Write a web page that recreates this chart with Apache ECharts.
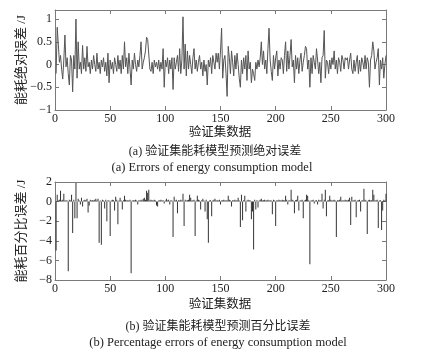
<!DOCTYPE html>
<html><head><meta charset="utf-8">
<script src="https://cdn.jsdelivr.net/npm/echarts@6/dist/echarts.min.js"></script>
<style>html,body{margin:0;padding:0;background:#fff}#c{width:444px;height:357px}</style>
</head><body><div id="c"></div>
<script>
// (a) absolute error of energy model, J (samples 1..300)
const absErr = [
-0.2,0.82,0.45,0.05,0.2,-0.1,-0.32,0.1,0.65,-0.05,
0.15,-0.2,-0.45,0.2,0.1,-0.6,0.2,-0.1,1.0,-0.3,
0.5,-0.1,0.05,-0.2,0.42,-0.1,0.15,-0.15,0.4,-0.05,
0.05,-0.2,0.1,-0.1,0.2,0.0,-0.15,0.25,-0.1,0.05,
-0.2,0.1,-0.05,0.15,-0.15,0.05,-0.25,0.25,-0.4,0.1,
-0.1,0.05,-0.2,0.15,0.0,-0.15,0.2,-0.1,0.1,-0.2,
0.2,-0.1,0.5,-0.05,0.15,-0.2,0.25,-0.1,-0.45,0.1,
-0.1,0.25,0.0,-0.15,0.1,-0.05,0.2,0.5,-0.1,0.05,
0.15,0.3,0.6,0.55,0.58,-0.1,-0.15,0.05,-0.2,0.1,
-0.05,0.05,-0.1,0.1,-0.15,0.05,-0.1,0.35,-0.5,0.1,
-0.05,0.15,-0.2,0.1,-0.1,0.15,-0.55,0.15,-0.1,0.05,
0.2,-0.15,0.35,-0.2,0.1,1.05,-0.1,0.45,-0.25,0.3,
-0.1,0.2,0.0,-0.2,0.15,0.35,-0.1,0.1,-0.15,0.05,
0.2,-0.1,0.05,-0.25,0.1,-0.15,0.0,-0.45,0.1,-0.05,
0.15,-0.2,0.2,0.05,-0.1,0.25,0.05,0.25,-0.1,0.3,
0.8,-0.3,0.1,0.2,-0.2,-0.7,0.4,0.15,-0.2,0.3,
0.05,-0.25,0.2,-0.1,0.25,0.0,-0.3,-0.5,0.1,-0.2,
0.15,-0.1,0.2,-0.35,0.3,-0.1,0.05,-0.4,-0.1,-0.2,
-0.35,0.05,-0.1,0.1,-0.05,0.15,0.5,0.0,0.3,-0.1,
0.1,-0.2,0.35,0.8,0.1,-0.15,-0.35,0.2,-0.1,0.15,
0.3,-0.25,0.1,-0.1,0.15,0.1,-0.2,0.2,0.5,-0.15,
0.3,-0.1,0.2,0.55,-0.05,0.1,-0.4,0.2,-0.1,0.15,
-0.2,0.1,0.25,-0.15,0.05,0.2,0.4,0.35,-0.1,0.1,
-0.5,0.15,-0.2,0.2,0.05,-0.1,0.35,0.1,-0.2,0.05,
-0.4,0.15,0.2,0.75,-0.3,0.1,0.05,-0.2,0.1,-0.1,
0.15,0.0,0.3,-0.1,0.1,-0.2,0.15,0.05,-0.15,0.2,
0.1,-0.1,0.15,0.1,0.15,-0.1,0.1,0.25,-0.1,-0.2,
0.1,-0.15,0.05,0.2,-0.2,0.1,-0.15,0.15,0.05,-0.1,
0.2,-0.1,0.15,0.05,-0.5,0.1,0.2,0.5,0.3,-0.1,
0.05,0.15,0.35,-0.45,0.1,-0.1,0.15,-0.3,0.0,0.2
];
// (b) percentage error of energy model
const pctErr = [
-5.0,0.7,0.1,0.2,1.1,0.1,0.2,0.8,0.1,0.15,
0.1,-7.1,0.2,0.1,0.7,-3.2,0.2,-1.7,1.9,-1.7,
0.3,0.1,-0.3,0.4,-0.5,0.1,0.2,0.15,0.3,-1.1,
-0.4,0.2,0.1,0.15,0.1,0.2,0.3,0.1,0.3,-4.2,
0.1,-4.4,0.2,0.1,-0.7,0.2,-2.0,0.15,0.1,-3.5,
0.1,0.2,0.15,-0.9,0.5,0.2,-2.3,0.1,0.4,0.1,
-0.8,0.15,0.6,0.2,0.1,0.15,0.1,0.2,-7.3,0.1,
0.15,0.1,0.2,0.1,-0.3,0.15,0.1,0.2,0.15,0.3,
0.4,0.2,1.1,0.9,1.2,0.1,0.2,0.15,0.1,0.2,
0.1,-0.4,-0.5,0.1,0.15,0.2,0.1,0.15,-0.2,0.1,
0.3,0.1,0.2,-0.3,0.15,0.1,-3.6,0.5,0.1,0.2,
-1.2,0.15,0.1,0.2,0.1,0.8,-2.5,0.2,0.1,0.15,
0.2,0.7,0.4,0.1,0.15,0.2,-3.5,0.1,0.6,0.2,
0.1,-0.8,0.15,0.3,0.1,-1.0,0.2,-1.8,-4.2,0.1,
0.15,-1.5,0.1,0.2,0.3,0.1,0.15,0.1,0.2,-0.3,
0.1,0.15,0.2,0.1,0.15,0.1,0.6,0.2,0.1,-0.5,
0.15,0.1,0.2,0.1,0.15,0.4,0.1,-2.6,0.7,-1.9,
0.15,0.6,-1.0,0.1,0.2,0.15,0.1,-1.8,-1.0,-4.9,
0.2,-0.8,0.15,-0.6,0.1,0.2,0.3,0.1,0.15,0.2,
0.1,0.15,0.2,0.1,0.15,0.1,-1.3,0.2,0.1,-2.5,
0.15,0.1,0.2,0.15,0.1,0.2,0.15,0.1,0.6,0.2,
-0.3,0.15,0.1,1.2,0.2,0.1,-1.2,0.15,0.2,0.6,
-0.9,0.1,0.15,0.2,-1.7,0.1,0.2,0.7,0.6,0.15,
-6.4,0.1,0.15,0.2,-0.2,0.1,0.15,-0.3,0.2,0.1,
0.15,0.8,-0.7,0.2,1.2,-1.5,0.1,0.15,0.6,0.2,
0.1,0.15,0.2,0.1,-3.6,0.15,0.1,0.2,0.5,0.1,
0.15,0.1,0.2,0.15,0.1,0.2,0.4,-2.4,0.5,0.1,
0.15,0.2,-1.6,0.1,0.15,0.2,-1.0,0.1,0.15,1.3,
0.2,0.1,-3.3,0.15,0.2,0.1,0.15,1.2,0.7,0.1,
0.15,0.2,-2.7,0.1,0.15,-2.9,-0.9,0.2,0.1,0.8
];
const xTicks = [0, 50, 100, 150, 200, 250, 300];
const yTicksA = [-1, -0.5, 0, 0.5, 1];
const yTicksB = [-8, -6, -4, -2, 0, 2];
const yNameA = '能耗绝对误差 /J';
const yNameB = '能耗百分比误差 /J';
const xName = '验证集数据';
const capA_cn = '(a) 验证集能耗模型预测绝对误差';
const capA_en = '(a) Errors of energy consumption model';
const capB_cn = '(b) 验证集能耗模型预测百分比误差';
const capB_en = '(b) Percentage errors of energy consumption model';

const FONT = '"Liberation Serif","Noto Sans CJK SC",serif';
const AXC = '#7a7a7a';
const TXT = '#222';
const fmt = v => (v < 0 ? '\u2212' + Math.abs(v) : String(v));

function xAx(gi, pos, labels) {
  return {
    type: 'value', gridIndex: gi, position: pos, min: xTicks[0], max: xTicks[xTicks.length-1], interval: 50,
    axisLine: {show: true, onZero: false, lineStyle: {color: AXC, width: 1}},
    axisTick: {show: true, inside: true, length: 4, lineStyle: {color: AXC}},
    axisLabel: {show: labels, color: TXT, fontFamily: FONT, fontSize: 12, margin: 3, formatter: fmt},
    splitLine: {show: false}
  };
}
function yAx(gi, pos, labels, ticks, name) {
  return {
    type: 'value', gridIndex: gi, position: pos, min: ticks[0], max: gi === 0 ? 1.2 : ticks[ticks.length-1],
    interval: ticks[1] - ticks[0],
    name: labels ? name : '', nameLocation: 'middle', nameGap: 27, nameRotate: 90, nameMoveOverlap: false,
    nameTextStyle: {color: TXT, fontFamily: FONT, fontSize: 13},
    axisLine: {show: true, onZero: false, lineStyle: {color: AXC, width: 1}},
    axisTick: {show: true, inside: true, length: 4, lineStyle: {color: AXC}},
    axisLabel: {show: labels, color: TXT, fontFamily: FONT, fontSize: 12, margin: 3, formatter: fmt,
      showMaxLabel: gi === 0 ? false : true},
    splitLine: {show: false}
  };
}
function txt(x, y, s, size) {
  return {type: 'text', x: x, y: y, style: {text: s, fill: TXT, font: size + 'px ' + FONT,
    align: 'center', verticalAlign: 'middle', textAlign: 'center', textVerticalAlign: 'middle'}};
}
const chart = echarts.init(document.getElementById('c'), null, {renderer: 'canvas'});
chart.setOption({
  backgroundColor: '#fff',
  animation: false,
  grid: [
    {left: 55, top: 10, width: 331, height: 100},
    {left: 55, top: 182, width: 331, height: 98}
  ],
  xAxis: [xAx(0, 'bottom', true), xAx(0, 'top', false), xAx(1, 'bottom', true), xAx(1, 'top', false)],
  yAxis: [yAx(0, 'left', true, yTicksA, yNameA), yAx(0, 'right', false, yTicksA, ''),
          yAx(1, 'left', true, yTicksB, yNameB), yAx(1, 'right', false, yTicksB, '')],
  series: [
    {type: 'line', xAxisIndex: 0, yAxisIndex: 0, data: absErr.map((v, i) => [i + 1, v]),
     showSymbol: false, lineStyle: {color: '#555', width: 1}},
    {type: 'bar', xAxisIndex: 2, yAxisIndex: 2, data: pctErr.map((v, i) => [i + 1, v]),
     barWidth: 1, itemStyle: {color: '#333'}}
  ],
  graphic: [
    txt(220, 133, xName, 12.5),
    txt(220, 305, xName, 12.5),
    txt(215, 152, capA_cn, 12),
    txt(212, 168, capA_en, 12.5),
    txt(218, 327, capB_cn, 12),
    txt(218, 343, capB_en, 12.5)
  ]
});
</script></body></html>
